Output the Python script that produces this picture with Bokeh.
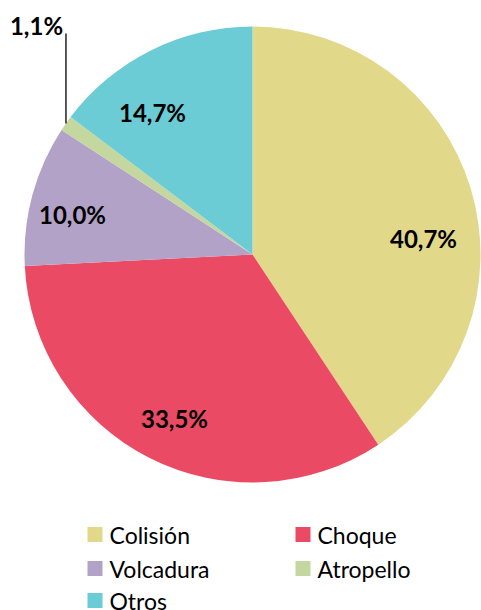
import math
from bokeh.plotting import figure
from bokeh.models import Range1d, ColumnDataSource
from bokeh.core.properties import value
from bokeh.embed import file_html
from bokeh.resources import INLINE

# ---- data ----
categories = ["Colisión", "Choque", "Volcadura", "Atropello", "Otros"]
percentages = [40.7, 33.5, 10.0, 1.1, 14.7]
labels = ["40,7%", "33,5%", "10,0%", "1,1%", "14,7%"]
colors = ["#E2D88A", "#EA4A64", "#B3A2C7", "#C4D79F", "#6BCCD5"]

# ---- layout ----
W, H = 481, 610
CX, CY, R = 252, 356, 228          # pie centre / radius (pixels)
# label offsets (dx, dy) from the centre, in pixels (dy upward)
label_offsets = [(171, 16), (-78, -164), (-180, 40), (-216, 229), (-100, 142)]
leader_index = 3
legend_cols_x = [87, 295]          # left of legend squares
legend_rows_y = [76, 42, 10]       # row centres (pixels from bottom)
SQ = 15

p = figure(width=W, height=H, output_backend="svg", toolbar_location=None,
           x_range=Range1d(0, W), y_range=Range1d(0, H), min_border=0)
p.axis.visible = False
p.grid.visible = False
p.outline_line_color = None
p.background_fill_color = "white"
p.border_fill_color = "white"

# wedges
total = sum(percentages)
starts, ends, mids = [], [], []
cum = 0.0
for v in percentages:
    a0 = math.pi / 2 - 2 * math.pi * cum / total
    cum += v
    a1 = math.pi / 2 - 2 * math.pi * cum / total
    starts.append(a0)
    ends.append(a1)
    mids.append((a0 + a1) / 2)

src = ColumnDataSource(dict(start=starts, end=ends, color=colors, cat=categories))
p.wedge(x=CX, y=CY, radius=R, start_angle="start", end_angle="end",
        direction="clock", fill_color="color", line_color=None, source=src)

# data labels
lx = [CX + dx for dx, dy in label_offsets]
ly = [CY + dy for dx, dy in label_offsets]
p.text(x=lx, y=ly, text=labels, text_font=value("Lato"), text_font_style="bold",
       text_font_size="24px", text_color="black", text_align="center",
       text_baseline="middle")

# leader line for the small slice
ma = mids[leader_index]
x0 = CX + R * math.cos(ma)
y0 = CY + R * math.sin(ma)
p.segment(x0=[x0], y0=[y0], x1=[x0], y1=[ly[leader_index] - 8],
          line_color="#222222", line_width=1.5)

# legend
sx, sy, tx = [], [], []
for i, c in enumerate(categories):
    col = i % 2
    row = i // 2
    sx.append(legend_cols_x[col] + SQ / 2)
    sy.append(legend_rows_y[row])
    tx.append(legend_cols_x[col] + SQ + 7)
p.rect(x=sx, y=sy, width=SQ, height=SQ, fill_color=colors, line_color=None)
p.text(x=tx, y=sy, text=categories, text_font=value("Lato"), text_font_size="23px",
       text_color="black", text_align="left", text_baseline="middle")

open("out.html", "w").write(file_html(p, INLINE))
